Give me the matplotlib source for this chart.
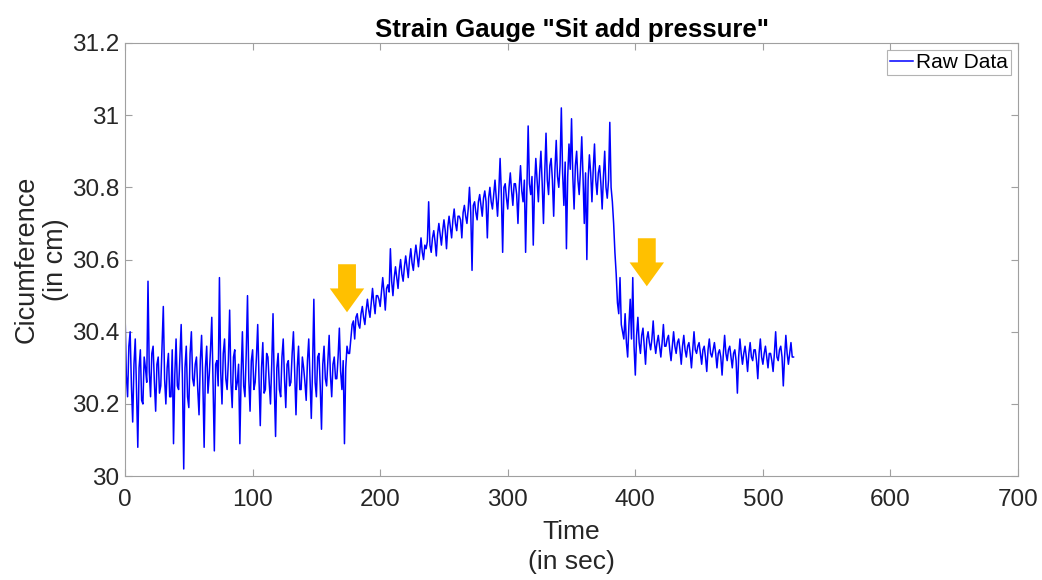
import matplotlib.pyplot as plt
import numpy as np
from matplotlib.patches import FancyArrow

plt.rcParams['font.family'] = ['Liberation Sans', 'DejaVu Sans']

# sample times (s), one per second
time_s = np.arange(0, 525)

# circumference readings (cm)
# resting, 0-175 s
circ_rest = [
    30.45, 30.28, 30.22, 30.36, 30.40, 30.25, 30.15, 30.31, 30.38, 30.24,
    30.08, 30.30, 30.35, 30.21, 30.20, 30.33, 30.30, 30.26, 30.54, 30.29,
    30.22, 30.34, 30.36, 30.26, 30.18, 30.31, 30.33, 30.23, 30.25, 30.36,
    30.47, 30.27, 30.20, 30.30, 30.34, 30.22, 30.22, 30.35, 30.09, 30.28,
    30.38, 30.25, 30.24, 30.33, 30.42, 30.27, 30.02, 30.30, 30.36, 30.22,
    30.19, 30.34, 30.40, 30.27, 30.25, 30.31, 30.33, 30.24, 30.17, 30.32,
    30.39, 30.26, 30.08, 30.30, 30.36, 30.23, 30.28, 30.35, 30.44, 30.26,
    30.07, 30.31, 30.32, 30.25, 30.55, 30.29, 30.20, 30.34, 30.38, 30.27,
    30.24, 30.32, 30.46, 30.26, 30.19, 30.33, 30.35, 30.24, 30.26, 30.31,
    30.09, 30.28, 30.40, 30.25, 30.22, 30.34, 30.50, 30.27, 30.18, 30.32,
    30.35, 30.24, 30.26, 30.33, 30.42, 30.27, 30.14, 30.30, 30.37, 30.23,
    30.24, 30.34, 30.33, 30.26, 30.20, 30.31, 30.45, 30.25, 30.11, 30.30,
    30.34, 30.24, 30.22, 30.33, 30.38, 30.27, 30.19, 30.31, 30.32, 30.25,
    30.26, 30.34, 30.40, 30.28, 30.17, 30.30, 30.36, 30.24, 30.24, 30.33,
    30.30, 30.26, 30.21, 30.32, 30.38, 30.27, 30.16, 30.30, 30.49, 30.26,
    30.22, 30.33, 30.34, 30.25, 30.13, 30.31, 30.36, 30.27, 30.25, 30.32,
    30.39, 30.28, 30.22, 30.31, 30.33, 30.27, 30.27, 30.33, 30.41, 30.29,
    30.24, 30.32, 30.09, 30.30, 30.36, 30.34,
]
# pressure added, 176-299 s
circ_rise = [
    30.34, 30.38, 30.42, 30.43, 30.38, 30.44, 30.45, 30.42, 30.41, 30.45,
    30.47, 30.44, 30.42, 30.46, 30.49, 30.46, 30.44, 30.48, 30.52, 30.48,
    30.45, 30.50, 30.50, 30.49, 30.47, 30.51, 30.55, 30.51, 30.46, 30.52,
    30.53, 30.51, 30.63, 30.54, 30.50, 30.55, 30.58, 30.55, 30.52, 30.57,
    30.60, 30.56, 30.54, 30.58, 30.61, 30.58, 30.55, 30.60, 30.63, 30.59,
    30.57, 30.61, 30.64, 30.61, 30.58, 30.62, 30.66, 30.62, 30.60, 30.64,
    30.63, 30.65, 30.76, 30.64, 30.62, 30.66, 30.68, 30.65, 30.61, 30.67,
    30.70, 30.67, 30.64, 30.68, 30.71, 30.68, 30.63, 30.69, 30.72, 30.69,
    30.66, 30.71, 30.74, 30.70, 30.68, 30.72, 30.72, 30.71, 30.66, 30.73,
    30.75, 30.72, 30.70, 30.74, 30.80, 30.73, 30.57, 30.75, 30.76, 30.73,
    30.71, 30.76, 30.78, 30.75, 30.72, 30.77, 30.79, 30.76, 30.66, 30.77,
    30.80, 30.76, 30.74, 30.78, 30.82, 30.77, 30.72, 30.79, 30.88, 30.78,
    30.62, 30.80, 30.81, 30.77,
]
# plateau, 300-380 s
circ_peak = [
    30.74, 30.80, 30.84, 30.79, 30.75, 30.81, 30.81, 30.78, 30.70, 30.80,
    30.86, 30.79, 30.76, 30.82, 30.62, 30.80, 30.97, 30.81, 30.78, 30.83,
    30.64, 30.80, 30.88, 30.82, 30.76, 30.84, 30.90, 30.81, 30.70, 30.84,
    30.95, 30.82, 30.78, 30.86, 30.88, 30.82, 30.72, 30.85, 30.93, 30.83,
    30.80, 30.86, 31.02, 30.84, 30.75, 30.87, 30.63, 30.83, 30.92, 30.85,
    30.99, 30.83, 30.74, 30.86, 30.90, 30.82, 30.78, 30.85, 30.94, 30.83,
    30.70, 30.84, 30.60, 30.82, 30.89, 30.84, 30.76, 30.85, 30.92, 30.82,
    30.78, 30.84, 30.86, 30.81, 30.74, 30.83, 30.90, 30.80, 30.77, 30.82,
    30.98,
]
# pressure released, 381-524 s
circ_release = [
    30.80, 30.76, 30.70, 30.62, 30.56, 30.48, 30.45, 30.55, 30.42, 30.40,
    30.38, 30.45, 30.37, 30.33, 30.42, 30.49, 30.38, 30.55, 30.36, 30.28,
    30.39, 30.44, 30.37, 30.34, 30.39, 30.41, 30.36, 30.31, 30.38, 30.40,
    30.37, 30.35, 30.38, 30.43, 30.37, 30.34, 30.37, 30.39, 30.36, 30.33,
    30.37, 30.42, 30.36, 30.36, 30.38, 30.39, 30.35, 30.32, 30.36, 30.40,
    30.36, 30.34, 30.37, 30.38, 30.35, 30.31, 30.36, 30.39, 30.35, 30.33,
    30.36, 30.37, 30.34, 30.30, 30.35, 30.40, 30.35, 30.34, 30.36, 30.37,
    30.34, 30.31, 30.35, 30.36, 30.33, 30.29, 30.35, 30.38, 30.34, 30.33,
    30.35, 30.37, 30.34, 30.30, 30.34, 30.35, 30.33, 30.28, 30.34, 30.39,
    30.34, 30.32, 30.35, 30.36, 30.33, 30.30, 30.34, 30.35, 30.32, 30.23,
    30.33, 30.38, 30.34, 30.31, 30.34, 30.36, 30.33, 30.29, 30.34, 30.37,
    30.33, 30.32, 30.35, 30.35, 30.32, 30.27, 30.34, 30.38, 30.33, 30.31,
    30.34, 30.36, 30.33, 30.30, 30.34, 30.34, 30.32, 30.29, 30.34, 30.40,
    30.33, 30.32, 30.35, 30.36, 30.33, 30.25, 30.33, 30.39, 30.34, 30.31,
    30.34, 30.37, 30.33, 30.33,
]
circ = np.array(circ_rest + circ_rise + circ_peak + circ_release)

# arrow markers: (time, top, tip)
arrows = [(174, 30.587, 30.454), (409, 30.659, 30.526)]

fig = plt.figure(figsize=(10.42, 5.8), dpi=100)
ax = fig.add_axes([0.12, 0.179, 0.857, 0.747])

ax.plot(time_s, circ, color='#0000ff', lw=1.1, label='Raw Data')

for t, top, tip in arrows:
    ax.add_patch(FancyArrow(t, top, 0, tip - top, width=14, head_width=27,
                            head_length=0.066, length_includes_head=True,
                            color='#ffc000', lw=0))

ax.set_xlim(0, 700)
ax.set_ylim(30, 31.2)
ax.set_xticks(np.arange(0, 701, 100))
ax.set_yticks(np.arange(30, 31.21, 0.2))
ax.set_yticklabels(['30', '30.2', '30.4', '30.6', '30.8', '31', '31.2'])
ax.tick_params(direction='in', length=5, labelsize=17.5, colors='#a0a0a0',
               labelcolor='#262626', top=True, right=True,
               labeltop=False, labelright=False)
ax.tick_params(axis='x', pad=9)
ax.tick_params(axis='y', pad=4)
for s in ax.spines.values():
    s.set_color('#a0a0a0')
    s.set_linewidth(0.8)

ax.set_xlabel('Time\n(in sec)', fontsize=19, color='#262626', labelpad=7,
              linespacing=1.3)
ax.set_ylabel('Cicumference\n(in cm)', fontsize=19.5, color='#262626', labelpad=2)
ax.set_title('Strain Gauge "Sit add pressure"', fontsize=18.5, fontweight='bold', pad=4)

leg = ax.legend(loc='upper right', fontsize=15, handlelength=1.1, handletextpad=0.15,
                fancybox=False, borderpad=0.15, borderaxespad=0.33)
leg.get_frame().set_edgecolor('#a0a0a0')
leg.get_frame().set_linewidth(0.8)

fig.savefig('out.png', dpi=100)
